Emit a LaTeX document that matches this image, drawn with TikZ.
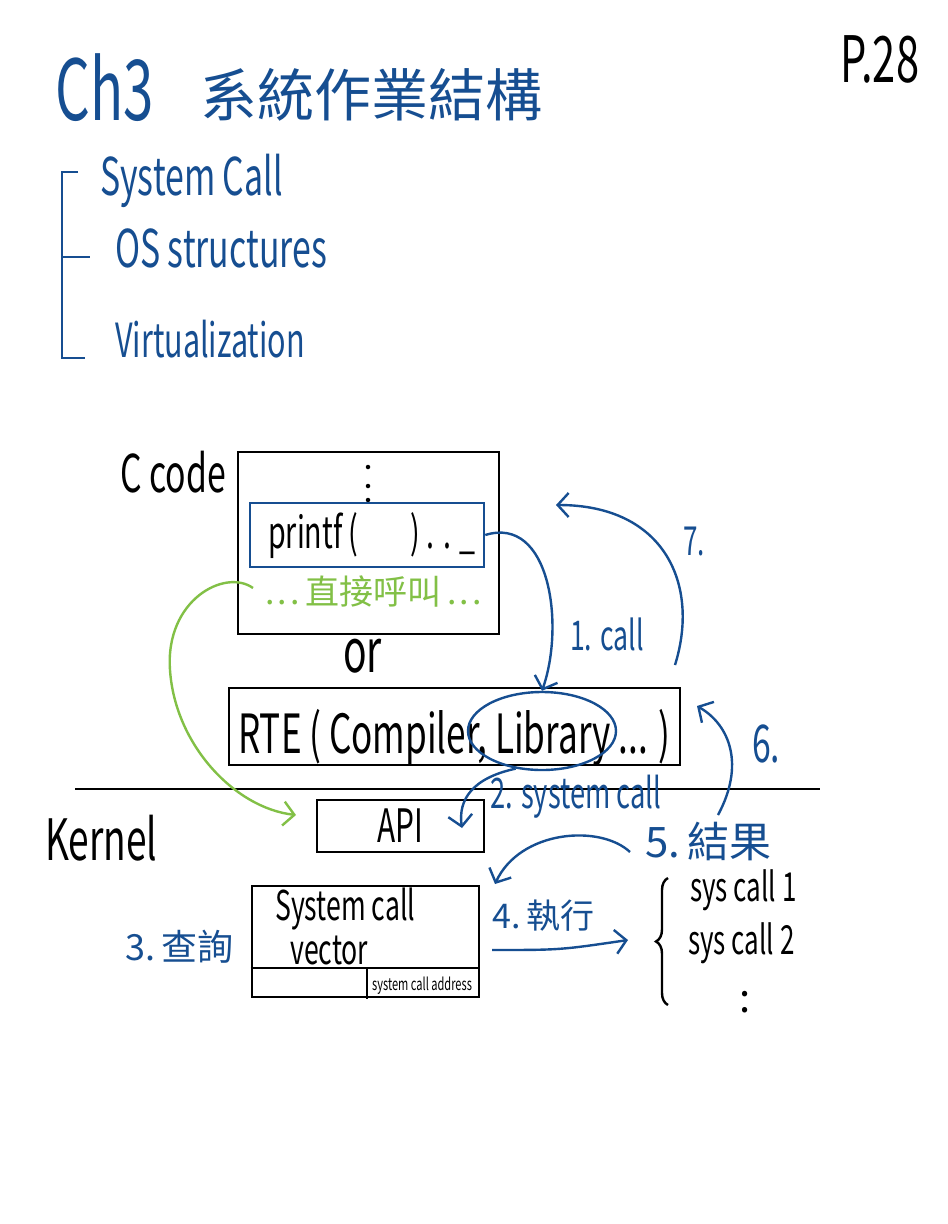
\documentclass[tikz,border=0pt]{standalone}
\usepackage{fontspec}
\setmainfont{Noto Sans CJK TC}
\usetikzlibrary{arrows.meta,shapes.geometric,decorations.pathreplacing}
\definecolor{ink}{RGB}{22,78,145}
\definecolor{leaf}{RGB}{130,192,70}
\newcommand{\hw}[1]{\scalebox{0.65}[1]{#1}}
\begin{document}
\begin{tikzpicture}[x=1pt,y=-1pt,
  fs/.style={font=\fontsize{#1}{#1}\selectfont},
  txt/.style={inner sep=0pt,anchor=base west},
  box/.style={draw=black,line width=2.6pt,inner sep=0pt},
  bluebox/.style={draw=ink,line width=2.6pt,inner sep=0pt},
  rule/.style={draw=black,line width=2.4pt},
  dotmark/.style={fill=black,circle,inner sep=0pt,minimum size=4.5pt},
  arr/.style={draw=ink,line width=2.4pt,-{Straight Barb[length=11pt,width=24pt]}},
  garr/.style={draw=leaf,line width=2.4pt,-{Straight Barb[length=11pt,width=24pt]}}
]
\fill[white] (0,0) rectangle (948,1224);
\useasboundingbox (0,0) rectangle (948,1224);

% title
\node[txt,fs=84,text=ink] (ch) at (55,120) {\hw{Ch3}};
\node[txt,fs=57,text=ink] (ttl) at (200,116) {系統作業結構};
\node[txt,fs=64,text=black] (page) at (840,82) {\hw{P.28}};

% list
\draw[draw=ink,line width=2.4pt] (78,172) -- (62,172) -- (62,358) -- (85,358);
\draw[draw=ink,line width=2.4pt] (62,257) -- (90,257);
\node[txt,fs=52,text=ink] (li1) at (100,195) {\hw{System Call}};
\node[txt,fs=52,text=ink] (li2) at (115,267) {\hw{OS structures}};
\node[txt,fs=47,text=ink] (li3) at (115,357) {\hw{Virtualization}};

% C code
\node[txt,fs=52,text=black] (cc) at (120,492) {\hw{C code}};
\node[box,minimum width=261pt,minimum height=182pt] (ccode) at (368.5,543) {};
\node[dotmark] (cd1) at (368,467) {};
\node[dotmark] (cd2) at (368,486) {};
\node[dotmark] (cd3) at (368,500) {};
\node[bluebox,minimum width=234pt,minimum height=64pt] (pf) at (367,535) {};
\node[txt,fs=44,text=black] (pft) at (268,548) {\hw{printf (\hspace{80pt}) . . \_}};
\node[txt,fs=34,text=leaf] (gt) at (265,604) {.\kern3pt.\kern3pt.\kern6pt直接呼叫\kern6pt.\kern3pt.\kern3pt.};
\node[txt,fs=60,text=black] (ortext) at (343,672) {\hw{or}};

% RTE
\node[box,minimum width=451pt,minimum height=77pt] (rte) at (454.5,726.5) {};
\node[txt,fs=54,text=black] (rtet) at (238,753) {\hw{RTE ( Compiler, Library ... )}};
\node[ellipse,draw=ink,line width=2.4pt,minimum width=148pt,minimum height=78pt,inner sep=0pt] (lib) at (542,731) {};

% kernel line
\coordinate (kl) at (75,789);
\coordinate (kr) at (820,789);
\draw[rule] (kl) -- (kr);
\node[txt,fs=57,text=black] (kern) at (45,860) {\hw{Kernel}};

% API
\node[box,minimum width=167pt,minimum height=52pt,fs=46] (api) at (400.5,826) {\hw{API}};

% system call vector
\node[box,minimum width=227pt,minimum height=111pt] (vec) at (365.5,941.5) {};
\draw[rule] (vec.west |- 0,968) -- (vec.east |- 0,968);
\draw[draw=black,line width=2pt] (367,968) -- (367,999);
\node[txt,fs=41,text=black] (vt1) at (275,920) {\hw{System call}};
\node[txt,fs=41,text=black] (vt2) at (290,964) {\hw{vector}};
\node[txt,fs=17,text=black] (addr) at (372,990) {\hw{system call address}};

% labels
\node[txt,fs=36,text=ink] (q3) at (125,960) {3.\,查詢};
\node[txt,fs=34,text=ink] (q4) at (492,928) {4.\,執行};
\node[txt,fs=42,text=ink] (q5) at (645,857) {5.\,結果};
\node[txt,fs=52,text=ink] (l6) at (752,762) {\hw{6.}};
\node[txt,fs=40,text=ink] (l7) at (683,555) {\hw{7.}};
\node[txt,fs=41,text=ink] (l1c) at (570,650) {\hw{1. call}};
\node[txt,fs=42,text=ink] (l2c) at (490,808) {\hw{2. system call}};

% sys calls
\node[txt,fs=40,text=black] (s1) at (690,901) {\hw{sys call 1}};
\node[txt,fs=40,text=black] (s2) at (688,954) {\hw{sys call 2}};
\node[fs=40,inner sep=0pt,text=black] (sdots) at (745,1002) {:};
\coordinate (brb) at (668,1005);
\coordinate (brt) at (668,878);
\draw[draw=black,line width=2.4pt,decorate,decoration={brace,amplitude=12pt}] (brb) -- (brt);

% connectors
\draw[arr] (pf.east) .. controls (550,515) and (565,625) .. (lib.north);
\coordinate (s7) at (675,665);
\coordinate (e7) at (556,505);
\draw[arr] (s7) .. controls (700,585) and (665,505) .. (e7);
\coordinate (s6) at (718,815);
\coordinate (e6) at (697,706);
\draw[arr] (s6) .. controls (745,765) and (730,725) .. (e6);
\coordinate (s5) at (630,852);
\coordinate (e5) at (495,884);
\draw[arr] (s5) .. controls (600,824) and (520,830) .. (e5);
\coordinate (e2) at (462,828);
\draw[arr] (lib.235) .. controls (472,778) and (458,800) .. (e2);
\coordinate (s4) at (492,950);
\coordinate (e4) at (628,940);
\draw[arr] (s4) .. controls (560,950) .. (e4);
\coordinate (g0) at (253,588);
\coordinate (g1) at (296,815);
\draw[garr] (g0) .. controls (225,568) and (165,600) .. (170,670) .. controls (175,745) and (235,808) .. (g1);
\end{tikzpicture}
\end{document}
